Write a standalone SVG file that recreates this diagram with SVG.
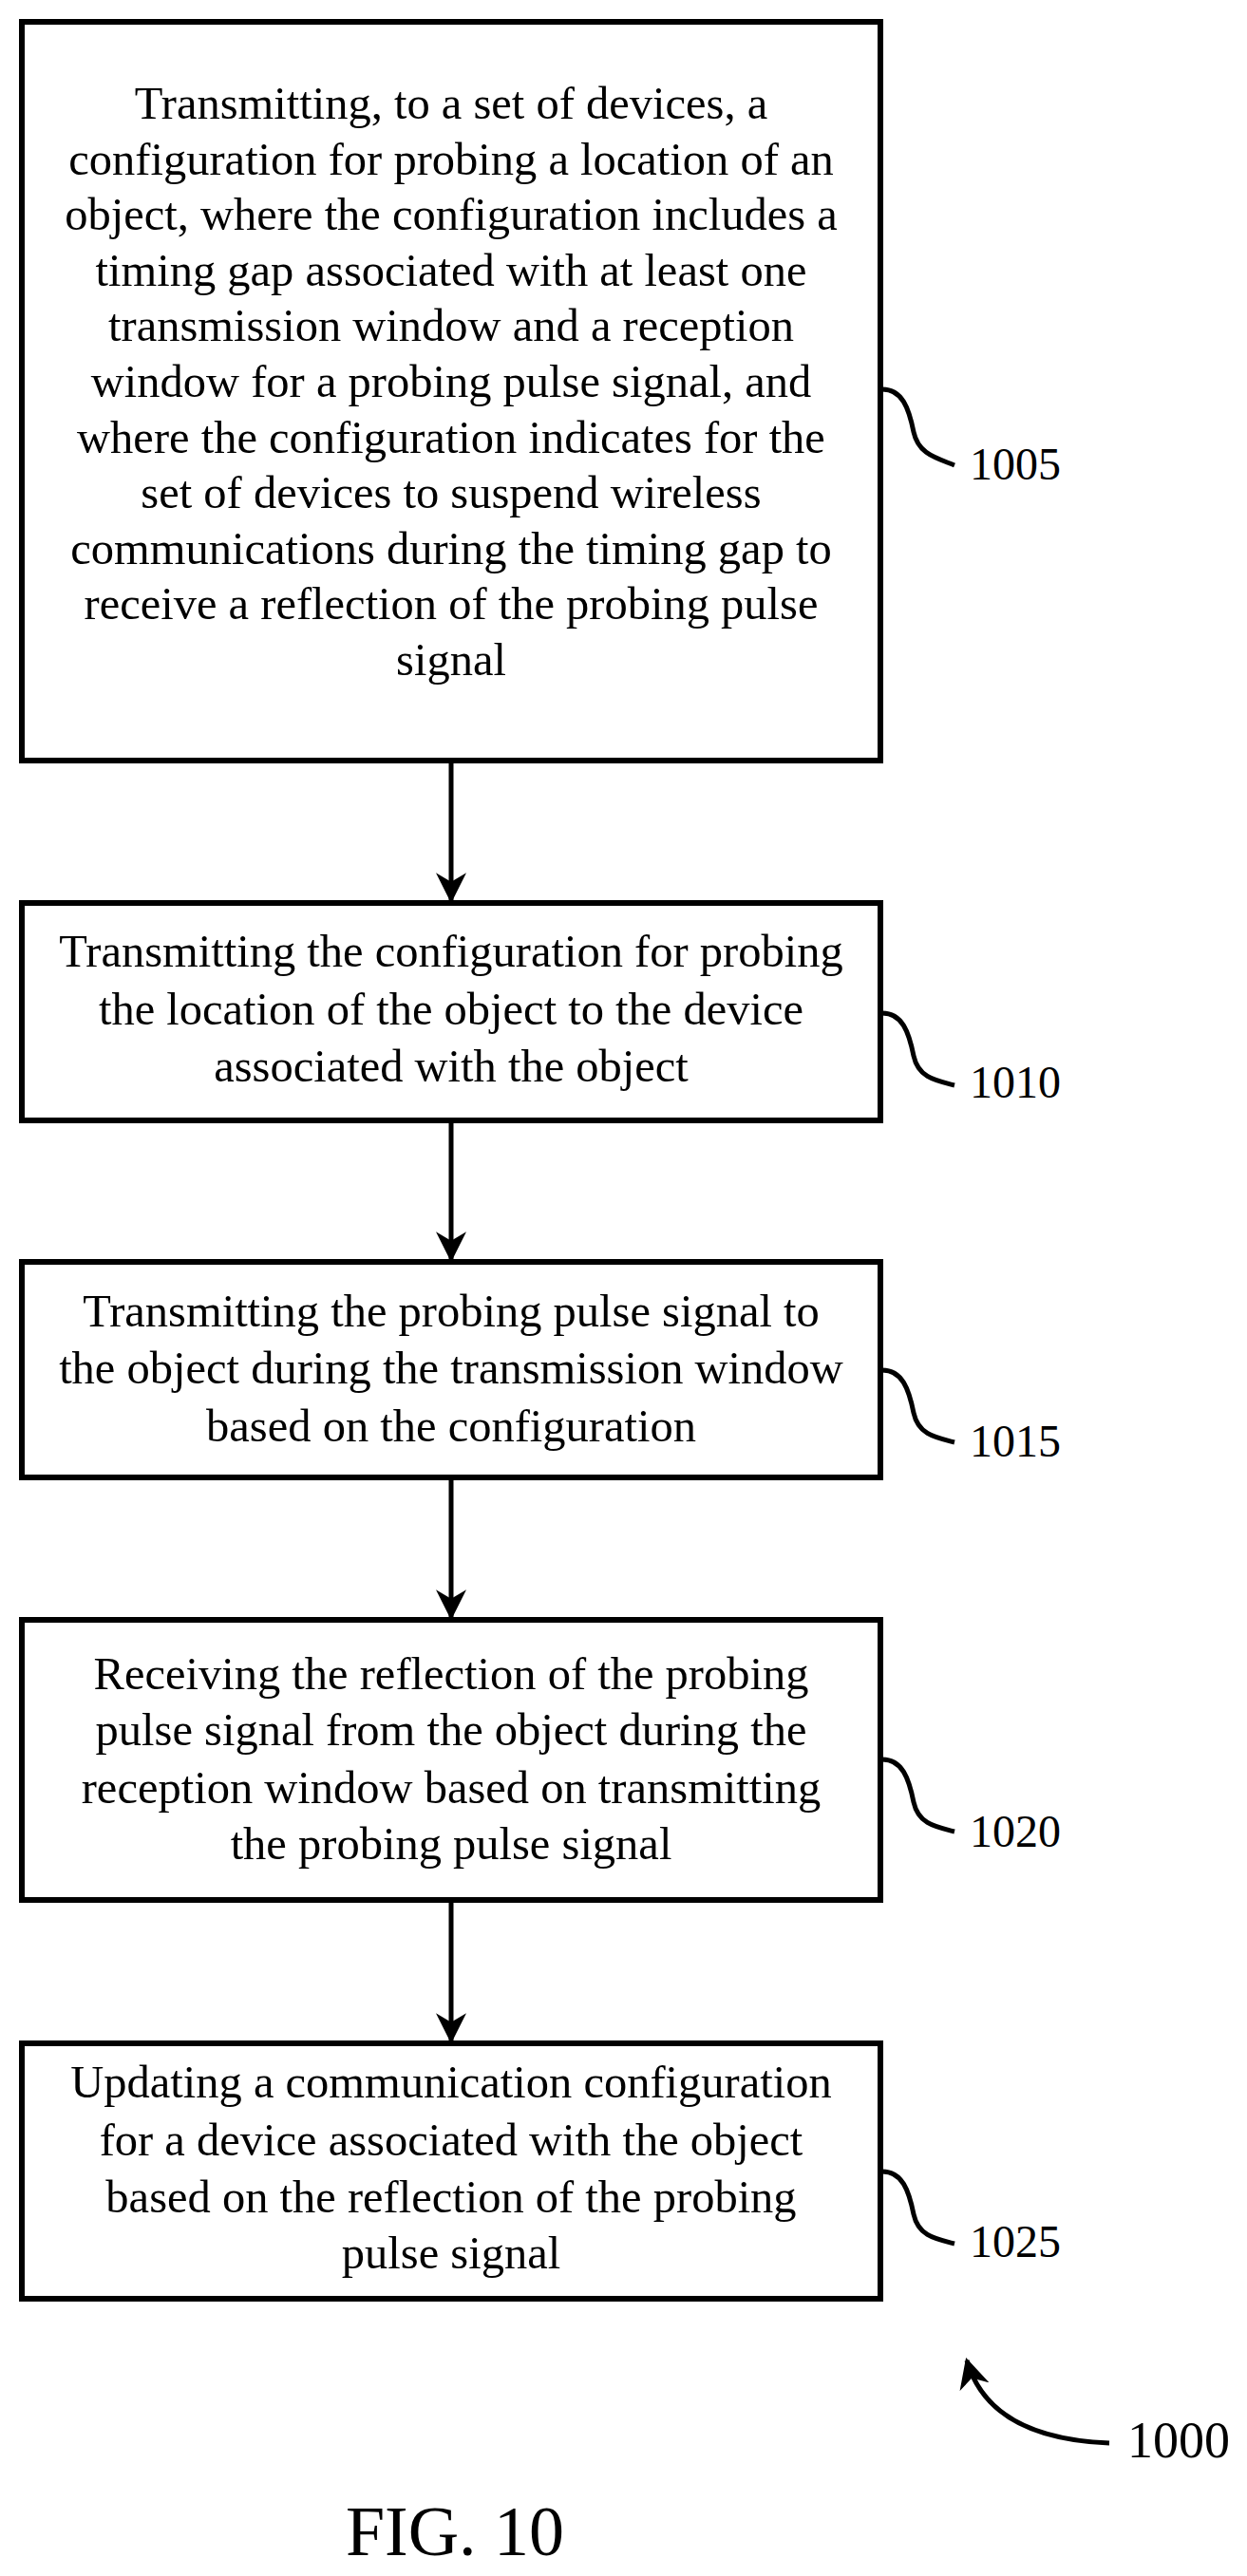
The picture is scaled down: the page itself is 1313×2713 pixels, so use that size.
<svg xmlns="http://www.w3.org/2000/svg" width="1313" height="2713" viewBox="0 0 1313 2713">
<style>
.b{fill:#fff;stroke:#000;stroke-width:6}
.t{font-family:"Liberation Serif",serif;font-size:48.5px;text-anchor:middle;fill:#000}
.l{font-family:"Liberation Serif",serif;font-size:48px;fill:#000}
.c{fill:none;stroke:#000;stroke-width:5}
</style>
<defs>
<marker id="h" viewBox="0 0 10 10" refX="9" refY="5" markerWidth="32" markerHeight="32" orient="auto" markerUnits="userSpaceOnUse"><path d="M0,0 L10,5 L0,10 L3,5 Z" fill="#000"/></marker></defs>
<g id="n1005"><rect class="b" x="23" y="23" width="904" height="778"/>
<text class="t"><tspan x="475" y="125">Transmitting, to a set of devices, a</tspan><tspan x="475" y="184">configuration for probing a location of an</tspan><tspan x="475" y="242">object, where the configuration includes a</tspan><tspan x="475" y="301">timing gap associated with at least one</tspan><tspan x="475" y="359">transmission window and a reception</tspan><tspan x="475" y="418">window for a probing pulse signal, and</tspan><tspan x="475" y="477">where the configuration indicates for the</tspan><tspan x="475" y="535">set of devices to suspend wireless</tspan><tspan x="475" y="594">communications during the timing gap to</tspan><tspan x="475" y="652">receive a reflection of the probing pulse</tspan><tspan x="475" y="711">signal</tspan></text>
<path class="c" d="M929,410 C950,410 957,430 962,455 C967,478 985,482 1005,490"/><text class="l" x="1021" y="505">1005</text></g>
<g id="n1010"><rect class="b" x="23" y="951" width="904" height="229"/>
<text class="t"><tspan x="475" y="1018">Transmitting the configuration for probing</tspan><tspan x="475" y="1079">the location of the object to the device</tspan><tspan x="475" y="1139">associated with the object</tspan></text>
<path class="c" d="M929,1067 C950,1067 957,1087 962,1112 C967,1135 985,1138 1005,1143"/><text class="l" x="1021" y="1156">1010</text></g>
<g id="n1015"><rect class="b" x="23" y="1329" width="904" height="227"/>
<text class="t"><tspan x="475" y="1397">Transmitting the probing pulse signal to</tspan><tspan x="475" y="1457">the object during the transmission window</tspan><tspan x="475" y="1518">based on the configuration</tspan></text>
<path class="c" d="M929,1443 C950,1443 957,1463 962,1488 C967,1511 985,1514 1005,1519"/><text class="l" x="1021" y="1534">1015</text></g>
<g id="n1020"><rect class="b" x="23" y="1706" width="904" height="295"/>
<text class="t"><tspan x="475" y="1779">Receiving the reflection of the probing</tspan><tspan x="475" y="1838">pulse signal from the object during the</tspan><tspan x="475" y="1899">reception window based on transmitting</tspan><tspan x="475" y="1958">the probing pulse signal</tspan></text>
<path class="c" d="M929,1853 C950,1853 957,1873 962,1898 C967,1921 985,1924 1005,1929"/><text class="l" x="1021" y="1945">1020</text></g>
<g id="n1025"><rect class="b" x="23" y="2152" width="904" height="269"/>
<text class="t"><tspan x="475" y="2209">Updating a communication configuration</tspan><tspan x="475" y="2270">for a device associated with the object</tspan><tspan x="475" y="2330">based on the reflection of the probing</tspan><tspan x="475" y="2389">pulse signal</tspan></text>
<path class="c" d="M929,2287 C950,2287 957,2307 962,2332 C967,2355 985,2358 1005,2363"/><text class="l" x="1021" y="2377">1025</text></g>
<g id="connectors">
<line class="c" x1="475" y1="801" x2="475" y2="948" marker-end="url(#h)"/>
<line class="c" x1="475" y1="1180" x2="475" y2="1326" marker-end="url(#h)"/>
<line class="c" x1="475" y1="1556" x2="475" y2="1703" marker-end="url(#h)"/>
<line class="c" x1="475" y1="2001" x2="475" y2="2149" marker-end="url(#h)"/>
<path class="c" d="M1168,2573 C1090,2570 1035,2545 1018,2486" marker-end="url(#h)"/>
</g>
<text class="l" x="1187" y="2588" style="font-size:54px">1000</text>
<text class="t" x="479" y="2691" style="font-size:74px">FIG. 10</text>
</svg>
